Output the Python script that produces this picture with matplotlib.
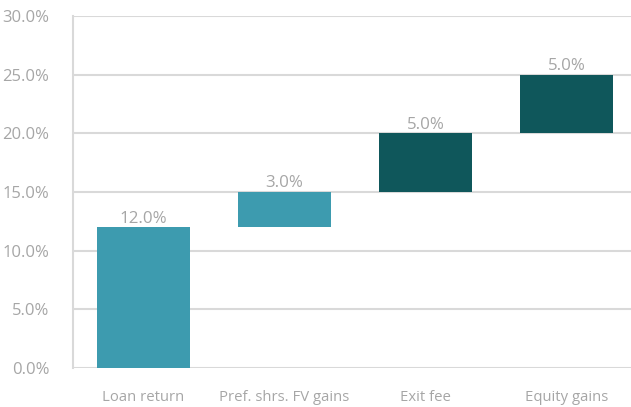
import matplotlib
matplotlib.use("Agg")
import matplotlib.pyplot as plt
import numpy as np
from matplotlib.ticker import FuncFormatter

categories = ["Loan return", "Pref. shrs. FV gains", "Exit fee", "Equity gains"]
values = [12.0, 3.0, 5.0, 5.0]
colors = ["#3D9BAF", "#3D9BAF", "#0F575B", "#0F575B"]
yticks = [0, 5, 10, 15, 20, 25, 30]

plt.rcParams['font.family'] = ['Open Sans', 'DejaVu Sans']

fig = plt.figure(figsize=(6.31, 4.07), dpi=100)
ax = fig.add_axes([73/631, 39/407, 564/631, 352/407])

bottoms = np.concatenate([[0], np.cumsum(values)[:-1]])
x = np.arange(len(categories))
ax.bar(x, values, bottom=bottoms, width=0.66, color=colors, zorder=3)

for xi, b, v in zip(x, bottoms, values):
    ax.text(xi, b + v + 0.05, f"{v:.1f}%", ha="center", va="bottom",
            fontsize=12.2, color="#A6A6A6", zorder=4)

ax.set_xlim(-0.5, len(categories) - 0.5)
ax.set_ylim(0, 30)
ax.set_yticks(yticks)
ax.yaxis.set_major_formatter(FuncFormatter(lambda v, p: f"{v:.1f}%"))
ax.set_xticks(x)
ax.set_xticklabels(categories)

ax.grid(axis="y", color="#D9D9D9", linewidth=1.5, zorder=0)
for s in ["top", "right", "bottom"]:
    ax.spines[s].set_visible(False)
ax.spines["left"].set_color("#D9D9D9")
ax.spines["left"].set_linewidth(1.5)
ax.tick_params(axis="y", length=0, pad=17, labelsize=12, labelcolor="#A6A6A6")
ax.tick_params(axis="x", length=0, pad=16, labelsize=10.7, labelcolor="#A6A6A6")

fig.savefig("out.png", dpi=100)
